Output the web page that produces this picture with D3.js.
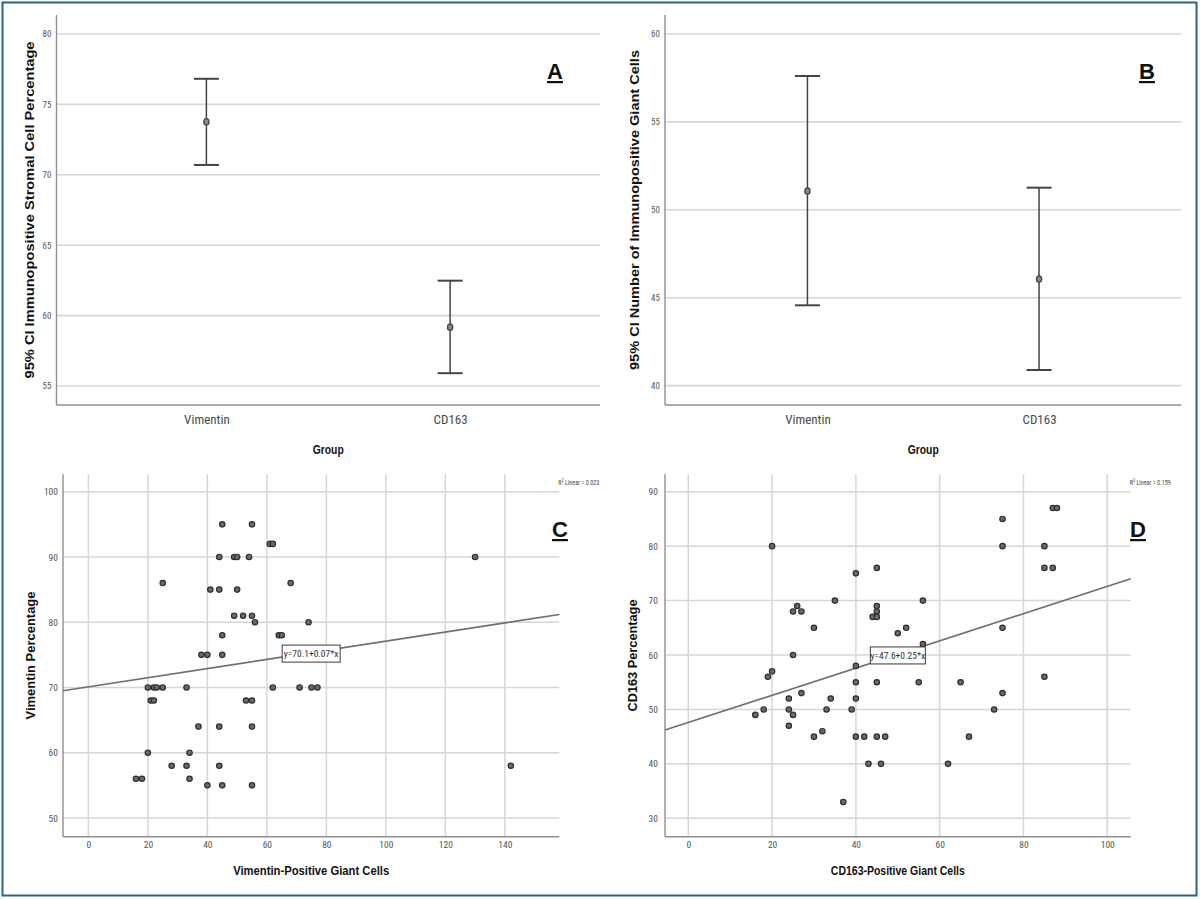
<!DOCTYPE html>
<html>
<head>
<meta charset="utf-8">
<script src="https://cdn.jsdelivr.net/npm/d3@7"></script>
<style>
  html, body { margin: 0; padding: 0; background: #fff; }
  svg { display: block; }
</style>
</head>
<body>
<svg id="chart" width="1200" height="899"></svg>
<script>
// ---------------- DATA ----------------
const groups = ["Vimentin", "CD163"];

// Panel A: 95% CI immunopositive stromal cell percentage
const stromalMean  = [73.76, 59.18];
const stromalLower = [70.70, 55.91];
const stromalUpper = [76.82, 62.48];
const ticksA = [55, 60, 65, 70, 75, 80];

// Panel B: 95% CI number of immunopositive giant cells
const giantMean  = [51.07, 46.06];
const giantLower = [44.57, 40.89];
const giantUpper = [57.61, 51.26];
const ticksB = [40, 45, 50, 55, 60];

// Panel C: Vimentin-positive giant cells vs Vimentin percentage
const vimGiant = [45,55,61,62,44,49,50,54,25,68,41,44,50,49,52,55,56,74,45,64,65,38,40,45,
                  20,22,23,25,33,62,71,75,77,21,22,53,55,37,44,55,20,34,28,33,44,16,18,34,40,45,55,130,142];
const vimPct   = [95,95,92,92,90,90,90,90,86,86,85,85,85,81,81,81,80,80,78,78,78,75,75,75,
                  70,70,70,70,70,70,70,70,70,68,68,68,68,64,64,64,60,60,58,58,58,56,56,56,55,55,55,90,58];
const ticksCx = [0, 20, 40, 60, 80, 100, 120, 140];
const ticksCy = [50, 60, 70, 80, 90, 100];
const fitC = [70.1, 0.07];          // intercept, slope
const r2C = "0.023";

// Panel D: CD163-positive giant cells vs CD163 percentage
const cdGiant = [20,40,45,35,56,26,25,27,45,45,44,45,30,50,52,56,25,40,19,20,40,45,55,27,24,34,40,
                 18,24,33,39,16,25,24,30,32,40,42,45,47,43,46,37,87,88,75,75,85,85,87,75,65,85,75,73,67,62];
const cdPct   = [80,75,76,70,70,69,68,68,69,68,67,67,65,64,65,62,60,58,56,57,55,55,55,53,52,52,52,
                 50,50,50,50,49,49,47,45,46,45,45,45,45,40,40,33,87,87,85,80,80,76,76,65,55,56,53,50,45,40];
const ticksDx = [0, 20, 40, 60, 80, 100];
const ticksDy = [30, 40, 50, 60, 70, 80, 90];
const fitD = [47.6, 0.25];
const r2D = "0.159";

// ---------------- STYLE ----------------
const NARROW = "'Liberation Sans Narrow', 'Arial Narrow', 'Roboto Condensed', 'Liberation Sans', sans-serif";
const BOLD = "'Liberation Sans', Arial, sans-serif";
const GRID = "#d6d6d6";
const AXIS = "#8f8f8f";
const INK = "#444";

const svg = d3.select("#chart");

// outer frame
svg.append("rect")
  .attr("x", 2.5).attr("y", 2.5).attr("width", 1194).attr("height", 893)
  .attr("fill", "none").attr("stroke", "#2b6389").attr("stroke-width", 2);

function panelLetter(txt, x, y) {
  svg.append("text").attr("x", x).attr("y", y)
    .attr("text-anchor", "middle")
    .style("font-family", BOLD).style("font-weight", "bold")
    .style("font-size", "22px").style("fill", "#111")
    .style("text-decoration", "underline")
    .text(txt);
}

function titleText(txt, x, y, len, rotate, size) {
  const t = svg.append("text")
    .attr("text-anchor", "middle")
    .style("font-family", BOLD).style("font-weight", "bold")
    .style("font-size", (size || 13) + "px").style("fill", "#111")
    .attr("textLength", len).attr("lengthAdjust", "spacingAndGlyphs")
    .text(txt);
  if (rotate) t.attr("transform", `translate(${x},${y}) rotate(-90)`);
  else t.attr("x", x).attr("y", y);
}

// ---------------- ERROR-BAR PANELS ----------------
function errorPanel(cfg) {
  const g = svg.append("g");
  const y = d3.scaleLinear().domain(cfg.yDomain).range([405, 15]);
  const x = d3.scalePoint().domain(groups).range(cfg.xRange).padding(0.615);
  const L = cfg.xRange[0], R = cfg.xRange[1];

  // gridlines
  g.selectAll("line.grid").data(cfg.ticks).join("line")
    .attr("x1", L).attr("x2", R)
    .attr("y1", d => y(d)).attr("y2", d => y(d))
    .attr("stroke", GRID).attr("stroke-width", 1.6);

  // axis lines
  g.append("line").attr("x1", L).attr("x2", L)
    .attr("y1", 15).attr("y2", 405).attr("stroke", AXIS).attr("stroke-width", 1.4);
  g.append("line").attr("x1", L).attr("x2", R)
    .attr("y1", 405).attr("y2", 405).attr("stroke", AXIS).attr("stroke-width", 1.4);

  // y tick labels
  const ya = g.append("g").attr("transform", `translate(${L},0)`)
    .call(d3.axisLeft(y).tickValues(cfg.ticks).tickSize(0).tickPadding(5));
  ya.select(".domain").remove();
  ya.selectAll("text").style("font-family", NARROW).style("font-size", "9px").style("fill", "#555");

  // x category labels
  const xa = g.append("g").attr("transform", "translate(0,405)")
    .call(d3.axisBottom(x).tickSize(0).tickPadding(10));
  xa.select(".domain").remove();
  xa.selectAll("text").style("font-family", NARROW).style("font-size", "13px").style("fill", "#4a4a4a");

  // error bars
  const idx = d3.range(groups.length);
  const cap = 12.5;
  g.selectAll("line.stem").data(idx).join("line")
    .attr("x1", i => x(groups[i])).attr("x2", i => x(groups[i]))
    .attr("y1", i => y(cfg.upper[i])).attr("y2", i => y(cfg.lower[i]))
    .attr("stroke", INK).attr("stroke-width", 1.5);
  g.selectAll("line.capU").data(idx).join("line")
    .attr("x1", i => x(groups[i]) - cap).attr("x2", i => x(groups[i]) + cap)
    .attr("y1", i => y(cfg.upper[i])).attr("y2", i => y(cfg.upper[i]))
    .attr("stroke", INK).attr("stroke-width", 2);
  g.selectAll("line.capL").data(idx).join("line")
    .attr("x1", i => x(groups[i]) - cap).attr("x2", i => x(groups[i]) + cap)
    .attr("y1", i => y(cfg.lower[i])).attr("y2", i => y(cfg.lower[i]))
    .attr("stroke", INK).attr("stroke-width", 2);
  g.selectAll("ellipse.mean").data(idx).join("ellipse")
    .attr("cx", i => x(groups[i])).attr("cy", i => y(cfg.mean[i]))
    .attr("rx", 2.6).attr("ry", 3.2).attr("fill", "#8a8a8a").attr("stroke", INK).attr("stroke-width", 1.3);

  titleText(cfg.yTitle, cfg.yTitleX, 210, cfg.yTitleLen, true, 13.5);
  titleText("Group", (x(groups[0]) + x(groups[1])) / 2, 454, 31, false, 13);
  panelLetter(cfg.letter, cfg.letterX, 79);
}

errorPanel({
  yDomain: [53.65, 81.35], ticks: ticksA, xRange: [56.5, 600],
  mean: stromalMean, lower: stromalLower, upper: stromalUpper,
  yTitle: "95% CI Immunopositive Stromal Cell Percentage", yTitleX: 34, yTitleLen: 337,
  letter: "A", letterX: 555
});
errorPanel({
  yDomain: [38.9, 61.08], ticks: ticksB, xRange: [665, 1181.5],
  mean: giantMean, lower: giantLower, upper: giantUpper,
  yTitle: "95% CI Number of Immunopositive Giant Cells", yTitleX: 639, yTitleLen: 320,
  letter: "B", letterX: 1147
});

// ---------------- SCATTER PANELS ----------------
function scatterPanel(cfg) {
  const g = svg.append("g");
  const [L, R, T, B] = [cfg.left, cfg.right, 474.3, 836.7];
  const x = d3.scaleLinear().domain(cfg.xDomain).range([L, R]);
  const y = d3.scaleLinear().domain(cfg.yDomain).range([B, T]);

  g.selectAll("line.hg").data(cfg.yTicks).join("line")
    .attr("x1", L).attr("x2", R).attr("y1", d => y(d)).attr("y2", d => y(d))
    .attr("stroke", GRID).attr("stroke-width", 1.5);
  g.selectAll("line.vg").data(cfg.xTicks).join("line")
    .attr("x1", d => x(d)).attr("x2", d => x(d)).attr("y1", T).attr("y2", B)
    .attr("stroke", GRID).attr("stroke-width", 1.5);

  g.append("line").attr("x1", L).attr("x2", L).attr("y1", T).attr("y2", B)
    .attr("stroke", AXIS).attr("stroke-width", 1.4);
  g.append("line").attr("x1", L).attr("x2", R).attr("y1", B).attr("y2", B)
    .attr("stroke", AXIS).attr("stroke-width", 1.4);

  const ya = g.append("g").attr("transform", `translate(${L},0)`)
    .call(d3.axisLeft(y).tickValues(cfg.yTicks).tickSize(0).tickPadding(cfg.yPad));
  ya.select(".domain").remove();
  ya.selectAll("text").style("font-family", NARROW).style("font-size", "9.5px").style("fill", "#555");

  const xa = g.append("g").attr("transform", `translate(0,${B})`)
    .call(d3.axisBottom(x).tickValues(cfg.xTicks).tickSize(0).tickPadding(5));
  xa.select(".domain").remove();
  xa.selectAll("text").style("font-family", NARROW).style("font-size", "9.5px").style("fill", "#555");

  // regression line
  const [b0, b1] = cfg.fit;
  const x0 = cfg.xDomain[0], x1 = cfg.xDomain[1];
  g.append("line")
    .attr("x1", x(x0)).attr("y1", y(b0 + b1 * x0))
    .attr("x2", x(x1)).attr("y2", y(b0 + b1 * x1))
    .attr("stroke", "#6f6f6f").attr("stroke-width", 1.6);

  // points
  g.selectAll("circle.pt").data(cfg.xs).join("circle")
    .attr("cx", (d) => x(d)).attr("cy", (d, i) => y(cfg.ys[i]))
    .attr("r", 2.7).attr("fill", "#6a6a6a").attr("stroke", "#2e2e2e").attr("stroke-width", 1.2);

  // fit label box
  const xm = (x0 + x1) / 2;
  const cx = x(xm), cy = y(b0 + b1 * xm) + 1;
  const lbl = `y=${b0}+${b1}*x`;
  g.append("rect").attr("x", cx - cfg.boxW / 2).attr("y", cy - 8.5)
    .attr("width", cfg.boxW).attr("height", 17)
    .attr("fill", "#fff").attr("stroke", "#3a3a3a").attr("stroke-width", 1);
  g.append("text").attr("x", cx).attr("y", cy + 3.5).attr("text-anchor", "middle")
    .style("font-family", NARROW).style("font-size", "9.5px").style("fill", "#333")
    .text(lbl);

  // R² label
  const r2 = g.append("text").attr("x", R - 1).attr("y", 485)
    .attr("textLength", 41).attr("lengthAdjust", "spacingAndGlyphs")
    .style("font-family", NARROW).style("font-size", "8px").style("fill", "#444");
  r2.append("tspan").text("R");
  r2.append("tspan").attr("dy", -3).style("font-size", "5.5px").text("2");
  r2.append("tspan").attr("dy", 3).text(" Linear = " + cfg.r2);

  titleText(cfg.xTitle, (L + R) / 2, 875, cfg.xTitleLen, false, 13);
  titleText(cfg.yTitle, cfg.yTitleX, (T + B) / 2, cfg.yTitleLen, true, 13);
  panelLetter(cfg.letter, cfg.letterX, 537);
}

scatterPanel({
  left: 63, right: 559.3, xDomain: [-8.53, 158.3], yDomain: [47.13, 102.67],
  xTicks: ticksCx, yTicks: ticksCy, xs: vimGiant, ys: vimPct, fit: fitC, r2: r2C,
  yPad: 5, boxW: 58,
  xTitle: "Vimentin-Positive Giant Cells", xTitleLen: 156,
  yTitle: "Vimentin Percentage", yTitleX: 35, yTitleLen: 128,
  letter: "C", letterX: 560
});
scatterPanel({
  left: 665, right: 1130.7, xDomain: [-5.56, 105.6], yDomain: [26.62, 93.2],
  xTicks: ticksDx, yTicks: ticksDy, xs: cdGiant, ys: cdPct, fit: fitD, r2: r2D,
  yPad: 7, boxW: 55,
  xTitle: "CD163-Positive Giant Cells", xTitleLen: 134,
  yTitle: "CD163 Percentage", yTitleX: 637, yTitleLen: 112,
  letter: "D", letterX: 1138
});
</script>
</body>
</html>
